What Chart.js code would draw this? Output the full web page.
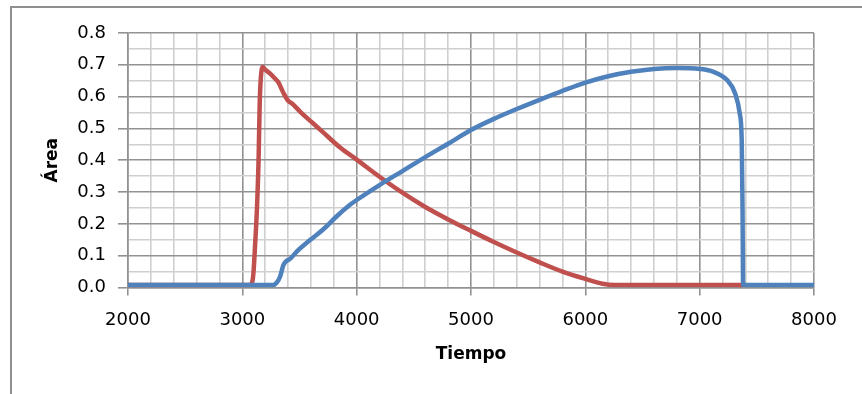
<!DOCTYPE html>
<html>
<head>
<meta charset="utf-8">
<script src="https://cdn.jsdelivr.net/npm/chart.js@4"></script>
<style>
  html, body { margin: 0; padding: 0; background: #fff; }
  #wrap { position: relative; width: 862px; height: 394px; overflow: hidden; }
  #frame { position: absolute; left: 10px; top: 6px; width: 900px; height: 420px;
           border-left: 2px solid #8f8f8f; border-top: 2px solid #8f8f8f; }
  #grafico { position: absolute; left: 0; top: 0; }
</style>
</head>
<body>
<div id="wrap">
  <div id="frame"></div>
  <canvas id="grafico" width="862" height="394"></canvas>
</div>
<script>
// curva roja
const tiempoRojo = [2000, 3060, 3085, 3097, 3111, 3128, 3142, 3152, 3162, 3178, 3200, 3244, 3290, 3315,
    3359, 3403, 3432, 3505, 3600, 3700, 3855, 4000, 4200, 4400, 4600, 4800, 5000, 5200, 5400, 5600,
    5800, 6000, 6150, 6260, 7380];
const areaRoja = [0.008, 0.008, 0.015, 0.045, 0.13, 0.25, 0.4, 0.58, 0.66, 0.693, 0.685, 0.672, 0.655, 0.645,
    0.612, 0.586, 0.579, 0.553, 0.522, 0.49, 0.44, 0.402, 0.348, 0.298, 0.253, 0.214, 0.178, 0.143, 0.11, 0.079,
    0.05, 0.027, 0.012, 0.008, 0.008];

// curva azul
const tiempoAzul = [2000, 3270, 3300, 3330, 3359, 3385, 3417, 3476, 3592, 3709, 3826, 3942, 4000, 4200, 4400,
    4600, 4800, 5000, 5200, 5400, 5600, 5800, 6000, 6200, 6400, 6600, 6800, 7000, 7120, 7240, 7310,
    7350, 7368, 7375, 7380, 8000];
const areaAzul = [0.008, 0.008, 0.015, 0.034, 0.07, 0.083, 0.09, 0.113, 0.149, 0.183, 0.224, 0.26, 0.275, 0.322, 0.366,
    0.41, 0.452, 0.495, 0.53, 0.561, 0.59, 0.618, 0.644, 0.664, 0.678, 0.687, 0.69, 0.687, 0.678, 0.652, 0.61,
    0.548, 0.46, 0.25, 0.008, 0.008];

const ejeX = { min: 2000, max: 8000, paso: 200, pasoEtiqueta: 1000 };
const ejeY = { min: 0, max: 0.8, paso: 0.05, pasoEtiqueta: 0.1 };

const puntos = (xs, ys) => xs.map((x, i) => ({ x, y: ys[i] }));
const esMayor = (v, p) => Math.abs(v / p - Math.round(v / p)) < 1e-6;

const GRIS_MAYOR = '#929292';
const GRIS_MENOR = '#cfcfcf';

const fuenteTicks = { family: 'DejaVu Sans', size: 18 };
const fuenteTitulo = { family: 'DejaVu Sans', size: 17, weight: 'bold' };

// sin el margen extra que Chart.js reserva para las etiquetas de los extremos
function sinRelleno(s) {
    s.paddingTop = 0; s.paddingBottom = 0; s.paddingLeft = 0; s.paddingRight = 0;
}

new Chart(document.getElementById('grafico'), {
    type: 'line',
    data: {
        datasets: [
            {
                label: 'azul', data: puntos(tiempoAzul, areaAzul), order: 0,
                borderColor: '#4F81BD', borderWidth: 4.5, pointRadius: 0,
                cubicInterpolationMode: 'monotone', fill: false
            },
            {
                label: 'rojo', data: puntos(tiempoRojo, areaRoja), order: 1,
                borderColor: '#C0504D', borderWidth: 4.5, pointRadius: 0,
                cubicInterpolationMode: 'monotone', fill: false
            }
        ]
    },
    options: {
        responsive: false,
        devicePixelRatio: 1,
        animation: false,
        layout: { padding: { left: 42, top: 33, right: 48, bottom: 29 } },
        plugins: { legend: { display: false }, tooltip: { enabled: false } },
        scales: {
            x: {
                type: 'linear', min: ejeX.min, max: ejeX.max,
                afterFit: (s) => { s.height = 365 - 287.5; sinRelleno(s); },
                ticks: {
                    stepSize: ejeX.paso, autoSkip: false, maxRotation: 0, minRotation: 0,
                    padding: 14, color: '#000', font: fuenteTicks,
                    callback: (v) => esMayor(v, ejeX.pasoEtiqueta) ? String(v) : ''
                },
                grid: {
                    lineWidth: 1.6, tickLength: 8,
                    color: (c) => esMayor(c.tick.value, ejeX.pasoEtiqueta) ? GRIS_MAYOR : GRIS_MENOR,
                    tickColor: (c) => esMayor(c.tick.value, ejeX.pasoEtiqueta) ? GRIS_MAYOR : 'rgba(0,0,0,0)'
                },
                border: { color: GRIS_MAYOR, width: 1.6 },
                title: { display: true, text: 'Tiempo', color: '#000', font: fuenteTitulo, padding: 0 }
            },
            y: {
                min: ejeY.min, max: ejeY.max,
                afterFit: (s) => { s.width = 128 - 42; sinRelleno(s); },
                ticks: {
                    stepSize: ejeY.paso, autoSkip: false, padding: 12, color: '#000', font: fuenteTicks,
                    callback: (v) => esMayor(v, ejeY.pasoEtiqueta) ? v.toFixed(1) : ''
                },
                grid: {
                    lineWidth: 1.6, tickLength: 10,
                    color: (c) => esMayor(c.tick.value, ejeY.pasoEtiqueta) ? GRIS_MAYOR : GRIS_MENOR,
                    tickColor: (c) => esMayor(c.tick.value, ejeY.pasoEtiqueta) ? GRIS_MAYOR : 'rgba(0,0,0,0)'
                },
                border: { color: GRIS_MAYOR, width: 1.6 },
                title: { display: true, text: 'Área', color: '#000', font: fuenteTitulo, padding: 0 }
            }
        }
    }
});
</script>
</body>
</html>
